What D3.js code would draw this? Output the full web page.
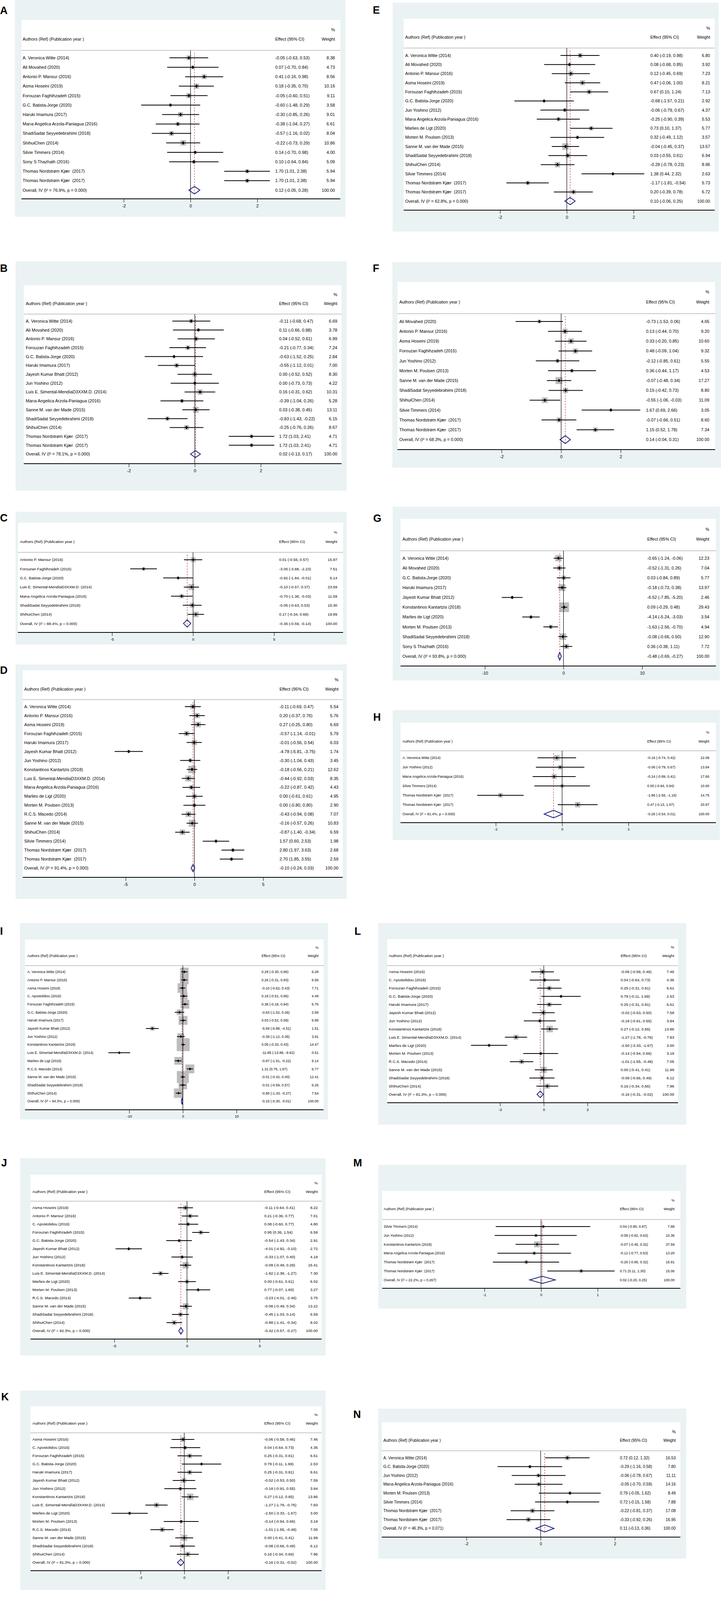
<!DOCTYPE html>
<html lang="en">
<head>
<meta charset="UTF-8">
<title>Forest plots A-N</title>
<script src="https://cdnjs.cloudflare.com/ajax/libs/d3/7.8.5/d3.min.js"></script>
<style>
  body { margin: 0; background: #fff; }
  svg text { font-family: "Liberation Sans", Arial, Helvetica, sans-serif; fill: #000; white-space: pre; }
</style>
</head>
<body>
<script>
// ---------- data, one block per panel ----------
var TNK = "Thomas Nordstrøm Kjær  (2017)";

// A
var aStudy = ["A. Veronica Witte (2014)", "Ali Movahed (2020)", "Antonio P. Mansur (2016)", "Asma Hoseini (2019)", "Forouzan Faghihzadeh (2015)", "G.C. Batista-Jorge (2020)", "Haruki Imamura (2017)", "Marıa Angelica Arzola-Paniagua (2016)", "ShadiSadat Seyyedebrahimi (2018)", "ShihuiChen (2014)", "Silvie Timmers (2014)", "Sony S Thazhath (2016)", TNK, TNK];
var aEffect = [-0.05, 0.07, 0.41, 0.18, -0.05, -0.60, -0.30, -0.38, -0.57, -0.22, 0.14, 0.10, 1.70, 1.70];
var aLow = [-0.63, -0.70, -0.16, -0.35, -0.60, -1.48, -0.85, -1.04, -1.16, -0.73, -0.70, -0.64, 1.01, 1.01];
var aHigh = [0.53, 0.84, 0.98, 0.70, 0.51, 0.29, 0.26, 0.27, 0.02, 0.29, 0.98, 0.84, 2.38, 2.38];
var aWeight = [8.38, 4.73, 8.56, 10.16, 9.11, 3.58, 9.01, 6.61, 8.04, 10.86, 4.00, 5.09, 5.94, 5.94];
var aPooled = [0.12, -0.05, 0.28];
var aHet = "I² = 76.9%, p = 0.000";
var aTicks = [-2, 0, 2];

// B
var bStudy = ["A. Veronica Witte (2014)", "Ali Movahed (2020)", "Antonio P. Mansur (2016)", "Forouzan Faghihzadeh (2015)", "G.C. Batista-Jorge (2020)", "Haruki Imamura (2017)", "Jayesh Kumar Bhatt (2012)", "Jun Yoshino (2012)", "Luis E. Simental-MendíaD3XXM.D. (2014)", "Marıa Angelica Arzola-Paniagua (2016)", "Sanne M. van der Made (2015)", "ShadiSadat Seyyedebrahimi (2018)", "ShihuiChen (2014)", TNK, TNK];
var bEffect = [-0.11, 0.11, 0.04, -0.21, -0.63, -0.55, 0.00, 0.00, 0.16, -0.39, 0.03, -0.83, -0.25, 1.72, 1.72];
var bLow = [-0.68, -0.66, -0.52, -0.77, -1.52, -1.12, -0.52, -0.73, -0.31, -1.04, -0.38, -1.43, -0.76, 1.03, 1.03];
var bHigh = [0.47, 0.88, 0.61, 0.34, 0.25, 0.01, 0.52, 0.73, 0.62, 0.26, 0.45, -0.22, 0.26, 2.41, 2.41];
var bWeight = [6.69, 3.78, 6.99, 7.24, 2.84, 7.00, 8.30, 4.22, 10.31, 5.28, 13.11, 6.15, 8.67, 4.71, 4.71];
var bPooled = [0.02, -0.13, 0.17];
var bHet = "I² = 78.1%, p = 0.000";
var bTicks = [-2, 0, 2];

// C
var cStudy = ["Antonio P. Mansur (2016)", "Forouzan Faghihzadeh (2015)", "G.C. Batista-Jorge (2020)", "Luis E. Simental-MendíaD3XXM.D. (2014)", "Marıa Angelica Arzola-Paniagua (2016)", "ShadiSadat Seyyedebrahimi (2018)", "ShihuiChen (2014)"];
var cEffect = [0.01, -3.05, -0.92, -0.10, -0.70, -0.05, 0.17];
var cLow = [-0.56, -3.88, -1.84, -0.57, -1.36, -0.63, -0.34];
var cHigh = [0.57, -2.23, -0.01, 0.37, -0.03, 0.53, 0.68];
var cWeight = [15.97, 7.51, 6.14, 23.59, 11.59, 15.30, 19.89];
var cPooled = [-0.36, -0.59, -0.14];
var cHet = "I² = 88.4%, p = 0.000";
var cTicks = [-5, 0, 5];

// D
var dStudy = ["A. Veronica Witte (2014)", "Antonio P. Mansur (2016)", "Asma Hoseini (2019)", "Forouzan Faghihzadeh (2015)", "Haruki Imamura (2017)", "Jayesh Kumar Bhatt (2012)", "Jun Yoshino (2012)", "Konstantinos Kantartzis (2018)", "Luis E. Simental-MendíaD3XXM.D. (2014)", "Marıa Angelica Arzola-Paniagua (2016)", "Marlies de Ligt (2020)", "Morten M. Poulsen (2013)", "R.C.S. Macedo (2014)", "Sanne M. van der Made (2015)", "ShihuiChen (2014)", "Silvie Timmers (2014)", TNK, TNK];
var dEffect = [-0.11, 0.20, 0.27, -0.57, -0.01, -4.78, -0.30, -0.18, -0.44, -0.22, 0.00, 0.00, -0.43, -0.16, -0.87, 1.57, 2.80, 2.70];
var dLow = [-0.69, -0.37, -0.25, -1.14, -0.56, -5.81, -1.04, -0.56, -0.92, -0.87, -0.61, -0.80, -0.94, -0.57, -1.40, 0.60, 1.97, 1.85];
var dHigh = [0.47, 0.76, 0.80, -0.01, 0.54, -3.75, 0.43, 0.21, 0.03, 0.42, 0.61, 0.80, 0.08, 0.26, -0.34, 2.53, 3.63, 3.55];
var dWeight = [5.54, 5.76, 6.69, 5.79, 6.03, 1.74, 3.45, 12.62, 8.35, 4.43, 4.95, 2.90, 7.07, 10.83, 6.59, 1.98, 2.68, 2.59];
var dPooled = [-0.10, -0.24, 0.03];
var dHet = "I² = 91.4%, p = 0.000";
var dTicks = [-5, 0, 5];

// E
var eStudy = ["A. Veronica Witte (2014)", "Ali Movahed (2020)", "Antonio P. Mansur (2016)", "Asma Hoseini (2019)", "Forouzan Faghihzadeh (2015)", "G.C. Batista-Jorge (2020)", "Jun Yoshino (2012)", "Marıa Angelica Arzola-Paniagua (2016)", "Marlies de Ligt (2020)", "Morten M. Poulsen (2013)", "Sanne M. van der Made (2015)", "ShadiSadat Seyyedebrahimi (2018)", "ShihuiChen (2014)", "Silvie Timmers (2014)", TNK, TNK];
var eEffect = [0.40, 0.08, 0.12, 0.47, 0.67, -0.68, -0.06, -0.25, 0.73, 0.32, -0.04, 0.03, -0.28, 1.38, -1.17, 0.20];
var eLow = [-0.19, -0.68, -0.45, -0.06, 0.10, -1.57, -0.79, -0.90, 0.10, -0.49, -0.45, -0.55, -0.78, 0.44, -1.81, -0.39];
var eHigh = [0.98, 0.85, 0.69, 1.00, 1.24, 0.21, 0.67, 0.39, 1.37, 1.12, 0.37, 0.61, 0.23, 2.32, -0.54, 0.78];
var eWeight = [6.80, 3.92, 7.23, 8.21, 7.13, 2.92, 4.37, 5.53, 5.77, 3.57, 13.57, 6.94, 8.96, 2.63, 5.73, 6.72];
var ePooled = [0.10, -0.06, 0.25];
var eHet = "I² = 62.8%, p = 0.000";
var eTicks = [-2, 0, 2];

// F
var fStudy = ["Ali Movahed (2020)", "Antonio P. Mansur (2016)", "Asma Hoseini (2019)", "Forouzan Faghihzadeh (2015)", "Jun Yoshino (2012)", "Morten M. Poulsen (2013)", "Sanne M. van der Made (2015)", "ShadiSadat Seyyedebrahimi (2018)", "ShihuiChen (2014)", "Silvie Timmers (2014)", TNK, TNK];
var fEffect = [-0.73, 0.13, 0.33, 0.48, -0.12, 0.36, -0.07, 0.15, -0.55, 1.67, -0.07, 1.15];
var fLow = [-1.53, -0.44, -0.20, -0.09, -0.85, -0.44, -0.48, -0.42, -1.06, 0.69, -0.66, 0.52];
var fHigh = [0.06, 0.70, 0.85, 1.04, 0.61, 1.17, 0.34, 0.73, -0.03, 2.66, 0.51, 1.78];
var fWeight = [4.65, 9.20, 10.60, 9.32, 5.55, 4.53, 17.27, 8.80, 11.09, 3.05, 8.60, 7.34];
var fPooled = [0.14, -0.04, 0.31];
var fHet = "I² = 68.3%, p = 0.000";
var fTicks = [-2, 0, 2];

// G
var gStudy = ["A. Veronica Witte (2014)", "Ali Movahed (2020)", "G.C. Batista-Jorge (2020)", "Haruki Imamura (2017)", "Jayesh Kumar Bhatt (2012)", "Konstantinos Kantartzis (2018)", "Marlies de Ligt (2020)", "Morten M. Poulsen (2013)", "ShadiSadat Seyyedebrahimi (2018)", "Sony S Thazhath (2016)"];
var gEffect = [-0.65, -0.52, 0.03, -0.18, -6.52, 0.09, -4.14, -1.63, -0.08, 0.36];
var gLow = [-1.24, -1.31, -0.84, -0.73, -7.85, -0.29, -5.24, -2.56, -0.66, -0.38];
var gHigh = [-0.06, 0.26, 0.89, 0.38, -5.20, 0.48, -3.03, -0.70, 0.50, 1.11];
var gWeight = [12.23, 7.04, 5.77, 13.97, 2.46, 29.43, 3.54, 4.94, 12.90, 7.72];
var gPooled = [-0.48, -0.69, -0.27];
var gHet = "I² = 93.8%, p = 0.000";
var gTicks = [-10, 0, 10];

// H
var hStudy = ["A. Veronica Witte (2014)", "Jun Yoshino (2012)", "Marıa Angelica Arzola-Paniagua (2016)", "Silvie Timmers (2014)", TNK, TNK];
var hEffect = [-0.16, -0.06, -0.24, 0.00, -1.86, 0.47];
var hLow = [-0.74, -0.79, -0.89, -0.84, -2.56, -0.13];
var hHigh = [0.42, 0.67, 0.41, 0.84, -1.16, 1.07];
var hWeight = [22.08, 13.84, 17.66, 10.60, 14.75, 20.97];
var hPooled = [-0.26, -0.54, 0.01];
var hHet = "I² = 81.4%, p = 0.000";
var hTicks = [-2, 0, 2];

// I
var iStudy = ["A. Veronica Witte (2014)", "Antonio P. Mansur (2016)", "Asma Hoseini (2019)", "C. Apostolidou (2016)", "Forouzan Faghihzadeh (2015)", "G.C. Batista-Jorge (2020)", "Haruki Imamura (2017)", "Jayesh Kumar Bhatt (2012)", "Jun Yoshino (2012)", "Konstantinos Kantartzis (2018)", "Luis E. Simental-MendíaD3XXM.D. (2014)", "Marlies de Ligt (2016)", "R.C.S. Macedo (2014)", "Sanne M. van der Made (2015)", "ShadiSadat Seyyedebrahimi (2018)", "ShihuiChen (2014)"];
var iEffect = [0.28, 0.26, -0.10, 0.18, 0.38, -0.63, 0.03, -5.69, -0.39, 0.05, -11.85, -0.87, 1.31, -0.01, -0.01, -0.80];
var iLow = [-0.30, -0.31, -0.62, -0.51, -0.18, -1.52, -0.52, -6.88, -1.12, -0.33, -13.88, -1.51, 0.75, -0.42, -0.59, -1.33];
var iHigh = [0.86, 0.83, 0.43, 0.86, 0.94, 0.26, 0.59, -4.51, 0.35, 0.43, -9.82, -0.22, 1.87, 0.40, 0.57, -0.27];
var iWeight = [6.28, 6.56, 7.71, 4.49, 6.76, 2.69, 6.89, 1.51, 3.91, 14.47, 0.51, 5.14, 6.77, 12.41, 6.26, 7.64];
var iPooled = [-0.15, -0.30, -0.01];
var iHet = "I² = 94.3%, p = 0.000";
var iTicks = [-10, 0, 10];

// J
var jStudy = ["Asma Hoseini (2019)", "Antonio P. Mansur (2016)", "C. Apostolidou (2016)", "Forouzan Faghihzadeh (2015)", "G.C. Batista-Jorge (2020)", "Jayesh Kumar Bhatt (2012)", "Jun Yoshino (2012)", "Konstantinos Kantartzis (2018)", "Luis E. Simental-MendíaD3XXM.D. (2014)", "Marlies de Ligt (2020)", "Morten M. Poulsen (2013)", "R.C.S. Macedo (2014)", "Sanne M. van der Made (2015)", "ShadiSadat Seyyedebrahimi (2018)", "ShihuiChen (2014)"];
var jEffect = [-0.11, 0.21, 0.08, 0.95, -0.54, -4.01, -0.33, -0.09, -1.82, 0.00, 0.77, -3.23, -0.08, -0.45, -0.88];
var jLow = [-0.64, -0.36, -0.60, 0.36, -1.43, -4.92, -1.07, -0.48, -2.38, -0.61, -0.07, -4.01, -0.49, -1.03, -1.41];
var jHigh = [0.41, 0.77, 0.77, 1.54, 0.34, -3.10, 0.40, 0.29, -1.27, 0.61, 1.60, -2.46, 0.34, 0.14, -0.34];
var jWeight = [8.22, 7.01, 4.80, 6.58, 2.91, 2.72, 4.19, 15.41, 7.30, 6.02, 3.27, 3.75, 13.22, 6.59, 8.02];
var jPooled = [-0.42, -0.57, -0.27];
var jHet = "I² = 92.3%, p = 0.000";
var jTicks = [-5, 0, 5];

// L (panel K repeats the same studies)
var lStudy = ["Asma Hoseini (2016)", "C. Apostolidou (2016)", "Forouzan Faghihzadeh (2015)", "G.C. Batista-Jorge (2020)", "Haruki Imamura (2017)", "Jayesh Kumar Bhatt (2012)", "Jun Yoshino (2012)", "Konstantinos Kantartzis (2018)", "Luis E. Simental-MendíaD3XXM.D. (2014)", "Marlies de Ligt (2020)", "Morten M. Poulsen (2013)", "R.C.S. Macedo (2014)", "Sanne M. van der Made (2015)", "ShadiSadat Seyyedebrahimi (2018)", "ShihuiChen (2014)"];
var lEffect = [-0.06, 0.04, 0.25, 0.79, 0.25, -0.02, -0.18, 0.27, -1.27, -2.50, -0.14, -1.01, 0.00, -0.08, 0.16];
var lLow = [-0.58, -0.64, -0.31, -0.11, -0.31, -0.53, -0.91, -0.12, -1.78, -3.33, -0.94, -1.55, -0.41, -0.66, -0.34];
var lHigh = [0.46, 0.73, 0.81, 1.69, 0.81, 0.50, 0.55, 0.65, -0.76, -1.67, 0.66, -0.48, 0.41, 0.49, 0.66];
var lWeight = [7.46, 4.36, 6.61, 2.53, 6.61, 7.59, 3.84, 13.86, 7.83, 3.00, 3.19, 7.05, 11.99, 6.12, 7.96];
var lPooled = [-0.16, -0.31, -0.02];
var lHet = "I² = 81.3%, p = 0.000";
var lTicks = [-2, 0, 2];

// M
var mStudy = ["Silvie Timmers (2014)", "Jun Yoshino (2012)", "Konstantinos Kantartzis (2018)", "Marıa Angelica Arzola-Paniagua (2016)", TNK, TNK];
var mEffect = [0.04, -0.09, -0.07, -0.12, -0.26, 0.71];
var mLow = [-0.80, -0.82, -0.45, -0.77, -0.85, 0.11];
var mHigh = [0.87, 0.63, 0.32, 0.53, 0.32, 1.30];
var mWeight = [7.88, 10.36, 37.59, 13.20, 15.91, 15.06];
var mPooled = [0.02, -0.20, 0.25];
var mHet = "I² = 22.2%, p = 0.267";
var mTicks = [-1, 0, 1];

// N
var nStudy = ["A. Veronica Witte (2014)", "G.C. Batista-Jorge (2020)", "Jun Yoshino (2012)", "Marıa Angelica Arzola-Paniagua (2016)", "Morten M. Poulsen (2013)", "Silvie Timmers (2014)", TNK, TNK];
var nEffect = [0.72, -0.29, -0.06, -0.05, 0.79, 0.72, -0.22, -0.33];
var nLow = [0.12, -1.16, -0.78, -0.70, -0.05, -0.15, -0.81, -0.92];
var nHigh = [1.32, 0.58, 0.67, 0.59, 1.62, 1.58, 0.37, 0.26];
var nWeight = [16.53, 7.80, 11.11, 14.16, 8.49, 7.88, 17.08, 16.95];
var nPooled = [0.11, -0.13, 0.36];
var nHet = "I² = 46.3%, p = 0.071";
var nTicks = [-2, 0, 2];

var panels = [
  { id: "A", study: aStudy, effect: aEffect, low: aLow, high: aHigh, weight: aWeight, pooled: aPooled, het: aHet, ticks: aTicks },
  { id: "B", study: bStudy, effect: bEffect, low: bLow, high: bHigh, weight: bWeight, pooled: bPooled, het: bHet, ticks: bTicks },
  { id: "C", study: cStudy, effect: cEffect, low: cLow, high: cHigh, weight: cWeight, pooled: cPooled, het: cHet, ticks: cTicks },
  { id: "D", study: dStudy, effect: dEffect, low: dLow, high: dHigh, weight: dWeight, pooled: dPooled, het: dHet, ticks: dTicks },
  { id: "E", study: eStudy, effect: eEffect, low: eLow, high: eHigh, weight: eWeight, pooled: ePooled, het: eHet, ticks: eTicks },
  { id: "F", study: fStudy, effect: fEffect, low: fLow, high: fHigh, weight: fWeight, pooled: fPooled, het: fHet, ticks: fTicks },
  { id: "G", study: gStudy, effect: gEffect, low: gLow, high: gHigh, weight: gWeight, pooled: gPooled, het: gHet, ticks: gTicks },
  { id: "H", study: hStudy, effect: hEffect, low: hLow, high: hHigh, weight: hWeight, pooled: hPooled, het: hHet, ticks: hTicks },
  { id: "I", study: iStudy, effect: iEffect, low: iLow, high: iHigh, weight: iWeight, pooled: iPooled, het: iHet, ticks: iTicks },
  { id: "J", study: jStudy, effect: jEffect, low: jLow, high: jHigh, weight: jWeight, pooled: jPooled, het: jHet, ticks: jTicks },
  { id: "K", study: lStudy, effect: lEffect, low: lLow, high: lHigh, weight: lWeight, pooled: lPooled, het: lHet, ticks: lTicks },
  { id: "L", study: lStudy, effect: lEffect, low: lLow, high: lHigh, weight: lWeight, pooled: lPooled, het: lHet, ticks: lTicks },
  { id: "M", study: mStudy, effect: mEffect, low: mLow, high: mHigh, weight: mWeight, pooled: mPooled, het: mHet, ticks: mTicks },
  { id: "N", study: nStudy, effect: nEffect, low: nLow, high: nHigh, weight: nWeight, pooled: nPooled, het: nHet, ticks: nTicks }
];

// ---------- layout of each panel (pixels) ----------
// box: outer grey-blue region, inner: white plot region [x0, y0, x1], px: pixel of first/last tick
var layout = {
  A: { box: [38, 0, 885, 555], inner: [55, 51, 872], label: [0, 36], pctY: 76, headY: 100, lineY: 129, row0: 148, rowH: 24.2, axisY: 509, px: [317, 659], nameX: 58, effX: 705, wtX: 858, font: 11, k: 4.2 },
  B: { box: [40, 669, 888, 1256], inner: [61, 730, 875], label: [0, 696], pctY: 754, headY: 777, lineY: 804, row0: 822, rowH: 22.7, axisY: 1187, px: [330, 668], nameX: 66, effX: 715, wtX: 864, font: 11, k: 4.2 },
  C: { box: [40, 1310, 888, 1650], inner: [46, 1338, 879], label: [0, 1335], pctY: 1363, headY: 1387, lineY: 1414, row0: 1433, rowH: 23.3, axisY: 1619, px: [287, 702], nameX: 51, effX: 715, wtX: 864, font: 9.8, k: 3.2 },
  D: { box: [40, 1701, 888, 2301], inner: [58, 1716, 878], label: [0, 1725], pctY: 1740, headY: 1764, lineY: 1791, row0: 1809, rowH: 22.96, axisY: 2246, px: [322, 674], nameX: 62, effX: 716, wtX: 867, font: 11, k: 5.4 },
  E: { box: [1006, 7, 1841, 593], inner: [1034, 48, 1831], label: [955, 35], pctY: 72, headY: 95, lineY: 123, row0: 142, rowH: 23.3, axisY: 538, px: [1281, 1623], nameX: 1038, effX: 1666, wtX: 1819, font: 10.8, k: 4.5 },
  F: { box: [1005, 671, 1847, 1197], inner: [1018, 722, 1832], label: [955, 696], pctY: 747, headY: 773, lineY: 803, row0: 823, rowH: 25.2, axisY: 1151, px: [1285, 1590], nameX: 1023, effX: 1655, wtX: 1817, font: 10.9, k: 4.3 },
  G: { box: [1006, 1297, 1844, 1742], inner: [1026, 1328, 1834], label: [956, 1336], pctY: 1355, headY: 1380, lineY: 1410, row0: 1429, rowH: 25.1, axisY: 1705, px: [1242, 1645], nameX: 1031, effX: 1658, wtX: 1817, font: 10.9, k: 4.6 },
  H: { box: [1006, 1818, 1844, 2150], inner: [1026, 1850, 1834], label: [956, 1845], pctY: 1875, headY: 1898, lineY: 1922, row0: 1940, rowH: 24, axisY: 2106, px: [1270, 1610], nameX: 1031, effX: 1658, wtX: 1817, font: 9, k: 3 },
  I: { box: [51, 2363, 840, 2866], inner: [64, 2405, 829], label: [0, 2393], pctY: 2426, headY: 2447, lineY: 2472, row0: 2488, rowH: 20.7, axisY: 2841, px: [331, 606], nameX: 70, effX: 670, wtX: 816, font: 9, k: 8.7 },
  J: { box: [52, 2965, 834, 3470], inner: [78, 3007, 824], label: [3, 2986], pctY: 3029, headY: 3051, lineY: 3075, row0: 3092, rowH: 21.0, axisY: 3428, px: [293, 665], nameX: 83, effX: 677, wtX: 814, font: 9.9, k: 4.2 },
  K: { box: [52, 3560, 834, 4070], inner: [78, 3600, 824], label: [3, 3585], pctY: 3622, headY: 3644, lineY: 3668, row0: 3685, rowH: 21, axisY: 4021, px: [360, 584], nameX: 83, effX: 677, wtX: 814, font: 9.9, k: 4.5 },
  L: { box: [969, 2363, 1758, 2879], inner: [992, 2404, 1737], label: [908, 2393], pctY: 2425, headY: 2447, lineY: 2472, row0: 2488, rowH: 20.9, axisY: 2823, px: [1281, 1505], nameX: 996, effX: 1590, wtX: 1727, font: 9.9, k: 4.5 },
  M: { box: [969, 2982, 1758, 3350], inner: [979, 3049, 1743], label: [905, 2986], pctY: 3073, headY: 3095, lineY: 3122, row0: 3140, rowH: 22.75, axisY: 3298, px: [1241, 1531], nameX: 983, effX: 1588, wtX: 1728, font: 9, k: 2.5 },
  N: { box: [969, 3606, 1758, 3990], inner: [978, 3641, 1743], label: [905, 3630], pctY: 3665, headY: 3687, lineY: 3714, row0: 3732, rowH: 22.6, axisY: 3935, px: [1195, 1575], nameX: 982, effX: 1588, wtX: 1731, font: 10.3, k: 2.9 }
};

var svg = d3.select("body").append("svg")
  .attr("width", 1847)
  .attr("height", 4114);

var fmt = function (v) { return v.toFixed(2); };
var ciText = function (e, lo, hi) { return fmt(e) + " (" + fmt(lo) + ", " + fmt(hi) + ")"; };

panels.forEach(function (p) {
  var L = layout[p.id];
  var g = svg.append("g").attr("class", "panel-" + p.id);
  var fs = L.font + "px";
  var n = p.study.length;
  var rowY = function (i) { return L.row0 + i * L.rowH; };
  var x = d3.scaleLinear()
    .domain([p.ticks[0], p.ticks[p.ticks.length - 1]])
    .range(L.px);

  // graph region and plot region
  g.append("rect")
    .attr("x", L.box[0]).attr("y", L.box[1])
    .attr("width", L.box[2] - L.box[0]).attr("height", L.box[3] - L.box[1])
    .attr("fill", "#eaf2f3");
  g.append("rect")
    .attr("x", L.inner[0]).attr("y", L.inner[1])
    .attr("width", L.inner[2] - L.inner[0]).attr("height", L.axisY - L.inner[1])
    .attr("fill", "#fff");

  // panel letter
  g.append("text")
    .attr("x", L.label[0]).attr("y", L.label[1])
    .style("font-size", "27px").style("font-weight", "bold")
    .text(p.id);

  // header
  g.append("text").attr("x", L.wtX).attr("y", L.pctY).attr("dy", "0.35em")
    .attr("text-anchor", "end").style("font-size", fs).text("%");
  g.append("text").attr("x", L.nameX).attr("y", L.headY).attr("dy", "0.35em")
    .style("font-size", fs).text("Authors (Ref) (Publication year )");
  g.append("text").attr("x", L.effX).attr("y", L.headY).attr("dy", "0.35em")
    .style("font-size", fs).text("Effect (95% CI)");
  g.append("text").attr("x", L.wtX).attr("y", L.headY).attr("dy", "0.35em")
    .attr("text-anchor", "end").style("font-size", fs).text("Weight");
  g.append("line")
    .attr("x1", L.inner[0]).attr("x2", L.inner[2])
    .attr("y1", L.lineY).attr("y2", L.lineY)
    .attr("stroke", "#c6c6c6").attr("stroke-width", 2);

  var idx = d3.range(n);

  // weight boxes (drawn first, lines go over them)
  g.selectAll(".wbox").data(idx).enter().append("rect")
    .attr("class", "wbox")
    .attr("x", function (i) { return x(p.effect[i]) - L.k * Math.sqrt(p.weight[i]) / 2; })
    .attr("y", function (i) { return rowY(i) - L.k * Math.sqrt(p.weight[i]) / 2; })
    .attr("width", function (i) { return L.k * Math.sqrt(p.weight[i]); })
    .attr("height", function (i) { return L.k * Math.sqrt(p.weight[i]); })
    .attr("fill", "#bdbdbd");

  // no-effect line and pooled-estimate line
  g.append("line")
    .attr("x1", x(0)).attr("x2", x(0))
    .attr("y1", L.lineY).attr("y2", L.axisY)
    .attr("stroke", "#000").attr("stroke-width", 1.2);
  g.append("line")
    .attr("x1", x(p.pooled[0])).attr("x2", x(p.pooled[0]))
    .attr("y1", L.lineY + 6).attr("y2", rowY(n) + 0.4 * L.rowH)
    .attr("stroke", "#b5403a").attr("stroke-width", 1.2)
    .attr("stroke-dasharray", "4,3");

  // confidence intervals
  g.selectAll(".ci").data(idx).enter().append("line")
    .attr("class", "ci")
    .attr("x1", function (i) { return x(p.low[i]); })
    .attr("x2", function (i) { return x(p.high[i]); })
    .attr("y1", rowY).attr("y2", rowY)
    .attr("stroke", "#000").attr("stroke-width", 2);

  // point estimates (small black diamonds)
  var hw = 3.5 * L.font / 11, hh = 4.6 * L.font / 11;
  g.selectAll(".pt").data(idx).enter().append("path")
    .attr("class", "pt")
    .attr("d", function (i) {
      var cx = x(p.effect[i]), cy = rowY(i);
      return "M" + (cx - hw) + "," + cy + "L" + cx + "," + (cy - hh) + "L" + (cx + hw) + "," + cy + "L" + cx + "," + (cy + hh) + "Z";
    })
    .attr("fill", "#000");

  // row texts
  g.selectAll(".nm").data(idx).enter().append("text")
    .attr("x", L.nameX).attr("y", rowY).attr("dy", "0.35em")
    .style("font-size", fs).text(function (i) { return p.study[i]; });
  g.selectAll(".ef").data(idx).enter().append("text")
    .attr("x", L.effX).attr("y", rowY).attr("dy", "0.35em")
    .style("font-size", fs).text(function (i) { return ciText(p.effect[i], p.low[i], p.high[i]); });
  g.selectAll(".wt").data(idx).enter().append("text")
    .attr("x", L.wtX).attr("y", rowY).attr("dy", "0.35em")
    .attr("text-anchor", "end")
    .style("font-size", fs).text(function (i) { return fmt(p.weight[i]); });

  // overall row
  var oy = rowY(n), dh = 0.4 * L.rowH;
  g.append("path")
    .attr("d", "M" + x(p.pooled[1]) + "," + oy + "L" + x(p.pooled[0]) + "," + (oy - dh) +
      "L" + x(p.pooled[2]) + "," + oy + "L" + x(p.pooled[0]) + "," + (oy + dh) + "Z")
    .attr("fill", "none").attr("stroke", "#1b1f7e").attr("stroke-width", 2);
  g.append("text").attr("x", L.nameX).attr("y", oy).attr("dy", "0.35em")
    .style("font-size", fs).text("Overall, IV (" + p.het + ")");
  g.append("text").attr("x", L.effX).attr("y", oy).attr("dy", "0.35em")
    .style("font-size", fs).text(ciText(p.pooled[0], p.pooled[1], p.pooled[2]));
  g.append("text").attr("x", L.wtX).attr("y", oy).attr("dy", "0.35em")
    .attr("text-anchor", "end").style("font-size", fs).text("100.00");

  // x axis
  var ax = g.append("g")
    .attr("transform", "translate(0," + L.axisY + ")")
    .call(d3.axisBottom(x).tickValues(p.ticks).tickSize(9).tickPadding(5)
      .tickFormat(function (d) { return String(d); }));
  ax.select(".domain").remove();
  ax.selectAll("line").attr("stroke", "#000").attr("stroke-width", 1);
  ax.selectAll("text")
    .attr("font-family", null).style("font-size", fs).attr("fill", "#000");
  g.append("line")
    .attr("x1", L.inner[0]).attr("x2", L.inner[2])
    .attr("y1", L.axisY).attr("y2", L.axisY)
    .attr("stroke", "#000").attr("stroke-width", 2);
});
</script>
</body>
</html>
